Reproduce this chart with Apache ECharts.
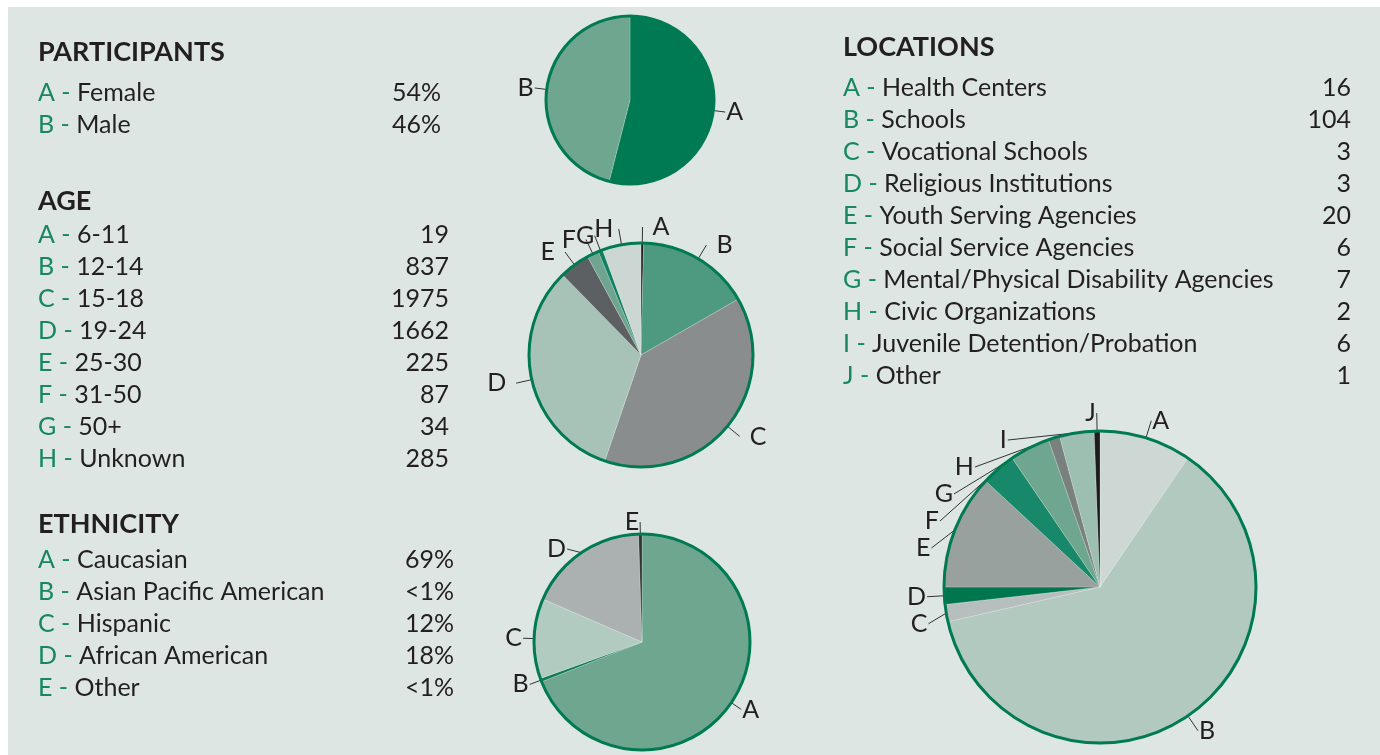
<!DOCTYPE html>
<html>
<head>
<meta charset="utf-8">
<script src="https://cdn.jsdelivr.net/npm/echarts@6/dist/echarts.min.js"></script>
<style>
  html, body { margin: 0; padding: 0; background: #ffffff; }
  #main { width: 1380px; height: 755px; }
</style>
</head>
<body>
<div id="main"></div>
<script>
// participants
var participantLetters = ['A', 'B'];
var participantNames = ['Female', 'Male'];
var participantShares = [54, 46];
var participantLabels = ['54%', '46%'];

// age
var ageLetters = ['A', 'B', 'C', 'D', 'E', 'F', 'G', 'H'];
var ageGroups = ['6-11', '12-14', '15-18', '19-24', '25-30', '31-50', '50+', 'Unknown'];
var ageCounts = [19, 837, 1975, 1662, 225, 87, 34, 285];

// ethnicity
var ethnicityLetters = ['A', 'B', 'C', 'D', 'E'];
var ethnicityNames = ['Caucasian', 'Asian Pacific American', 'Hispanic', 'African American', 'Other'];
var ethnicityShares = [69, 0.5, 12, 18, 0.5];
var ethnicityLabels = ['69%', '<1%', '12%', '18%', '<1%'];

// locations
var locationLetters = ['A', 'B', 'C', 'D', 'E', 'F', 'G', 'H', 'I', 'J'];
var locationNames = ['Health Centers', 'Schools', 'Vocational Schools', 'Religious Institutions',
  'Youth Serving Agencies', 'Social Service Agencies', 'Mental/Physical Disability Agencies',
  'Civic Organizations', 'Juvenile Detention/Probation', 'Other'];
var locationCounts = [16, 104, 3, 3, 20, 6, 7, 2, 6, 1];

var FONT = 'Lato, "Open Sans", sans-serif';
var GREEN_TEXT = '#17875f';
var DARK = '#231f20';
var OUTLINE = '#007a52';

var participantColors = ['#007a52', '#6ea690'];
var ageColors = ['#1a1a1a', '#4d9a80', '#898d8d', '#a7c3b8', '#5d6062', '#6fa590', '#0f8060', '#ccd7d3'];
var ethnicityColors = ['#6ea690', '#0f7a55', '#b2cbc1', '#aab1b0', '#333333'];
var locationColors = ['#cdd8d4', '#b1c9bf', '#b7bfbe', '#00764e', '#99a19f', '#178869', '#6fa68f', '#79817f', '#9dbfb2', '#1c1a1b'];

// text block: heading, rows of "X - name" and a right aligned value
function makeList(title, x, titleY, rowY, valueX, letters, names, values) {
  var els = [{
    type: 'text',
    x: x, y: titleY,
    style: {
      text: title, fill: DARK, font: 'bold 27px ' + FONT, verticalAlign: 'middle'
    }
  }];
  for (var i = 0; i < letters.length; i++) {
    els.push({
      type: 'text',
      x: x, y: rowY + i * 32,
      style: {
        text: '{l|' + letters[i] + '} {l|-} ' + names[i],
        fill: DARK,
        font: '25px ' + FONT,
        verticalAlign: 'middle',
        rich: {
          l: { fill: GREEN_TEXT, font: '25px ' + FONT }
        }
      }
    });
    els.push({
      type: 'text',
      x: valueX, y: rowY + i * 32,
      style: {
        text: String(values[i]), fill: DARK, font: '25px ' + FONT,
        align: 'right', verticalAlign: 'middle'
      }
    });
  }
  return els;
}

function pieData(letters, values, colors) {
  return letters.map(function (l, i) {
    return { name: l, value: values[i], itemStyle: { color: colors[i] } };
  });
}

function pieSeries(center, radius, data, lineLen, spread) {
  var s = {
    type: 'pie',
    center: center,
    radius: radius,
    startAngle: 90,
    clockwise: true,
    silent: true,
    data: data,
    itemStyle: { borderWidth: 0.6, borderColor: 'rgba(255,255,255,0.35)' },
    label: {
      show: true,
      position: 'outside',
      color: DARK,
      fontFamily: FONT,
      fontSize: 25,
      formatter: '{b}',
      distanceToLabelLine: 1
    },
    labelLine: {
      show: true,
      length: lineLen,
      length2: 0,
      lineStyle: { color: '#333', width: 1 }
    }
  };
  if (spread) {
    // crowded small slices at the top: push the letters sideways
    s.avoidLabelOverlap = false;
    s.label.padding = [0, 9];
    s.labelLayout = { moveOverlap: 'shiftX' };
  }
  return s;
}

function outlineSeries(center, radius) {
  return {
    type: 'pie',
    center: center,
    radius: radius,
    silent: true,
    z: 5,
    label: { show: false },
    labelLine: { show: false },
    data: [{ value: 1, itemStyle: { color: 'rgba(0,0,0,0)', borderColor: OUTLINE, borderWidth: 3 } }]
  };
}

var graphics = [{
  type: 'rect',
  shape: { x: 8, y: 7, width: 1372, height: 748 },
  style: { fill: '#dde6e2' },
  z: -10
}];
graphics = graphics
  .concat(makeList('PARTICIPANTS', 38, 52, 93, 441, participantLetters, participantNames, participantLabels))
  .concat(makeList('AGE', 38, 201, 235, 449, ageLetters, ageGroups, ageCounts))
  .concat(makeList('ETHNICITY', 38, 524, 560, 454, ethnicityLetters, ethnicityNames, ethnicityLabels))
  .concat(makeList('LOCATIONS', 843, 47, 88, 1351, locationLetters, locationNames, locationCounts));

var option = {
  backgroundColor: '#ffffff',
  animation: false,
  graphic: { elements: graphics },
  series: [
    pieSeries([630, 100], 84, pieData(participantLetters, participantShares, participantColors), 12),
    outlineSeries([630, 100], 84),
    pieSeries([641, 355], 112, pieData(ageLetters, ageCounts, ageColors), 16, true),
    outlineSeries([641, 355], 112),
    pieSeries([642, 642], 108, pieData(ethnicityLetters, ethnicityShares, ethnicityColors), 12),
    outlineSeries([642, 642], 108),
    pieSeries([1100, 587], 156, pieData(locationLetters, locationCounts, locationColors), 18),
    outlineSeries([1100, 587], 156)
  ]
};

var myChart = echarts.init(document.getElementById('main'));
myChart.setOption(option);
</script>
</body>
</html>
